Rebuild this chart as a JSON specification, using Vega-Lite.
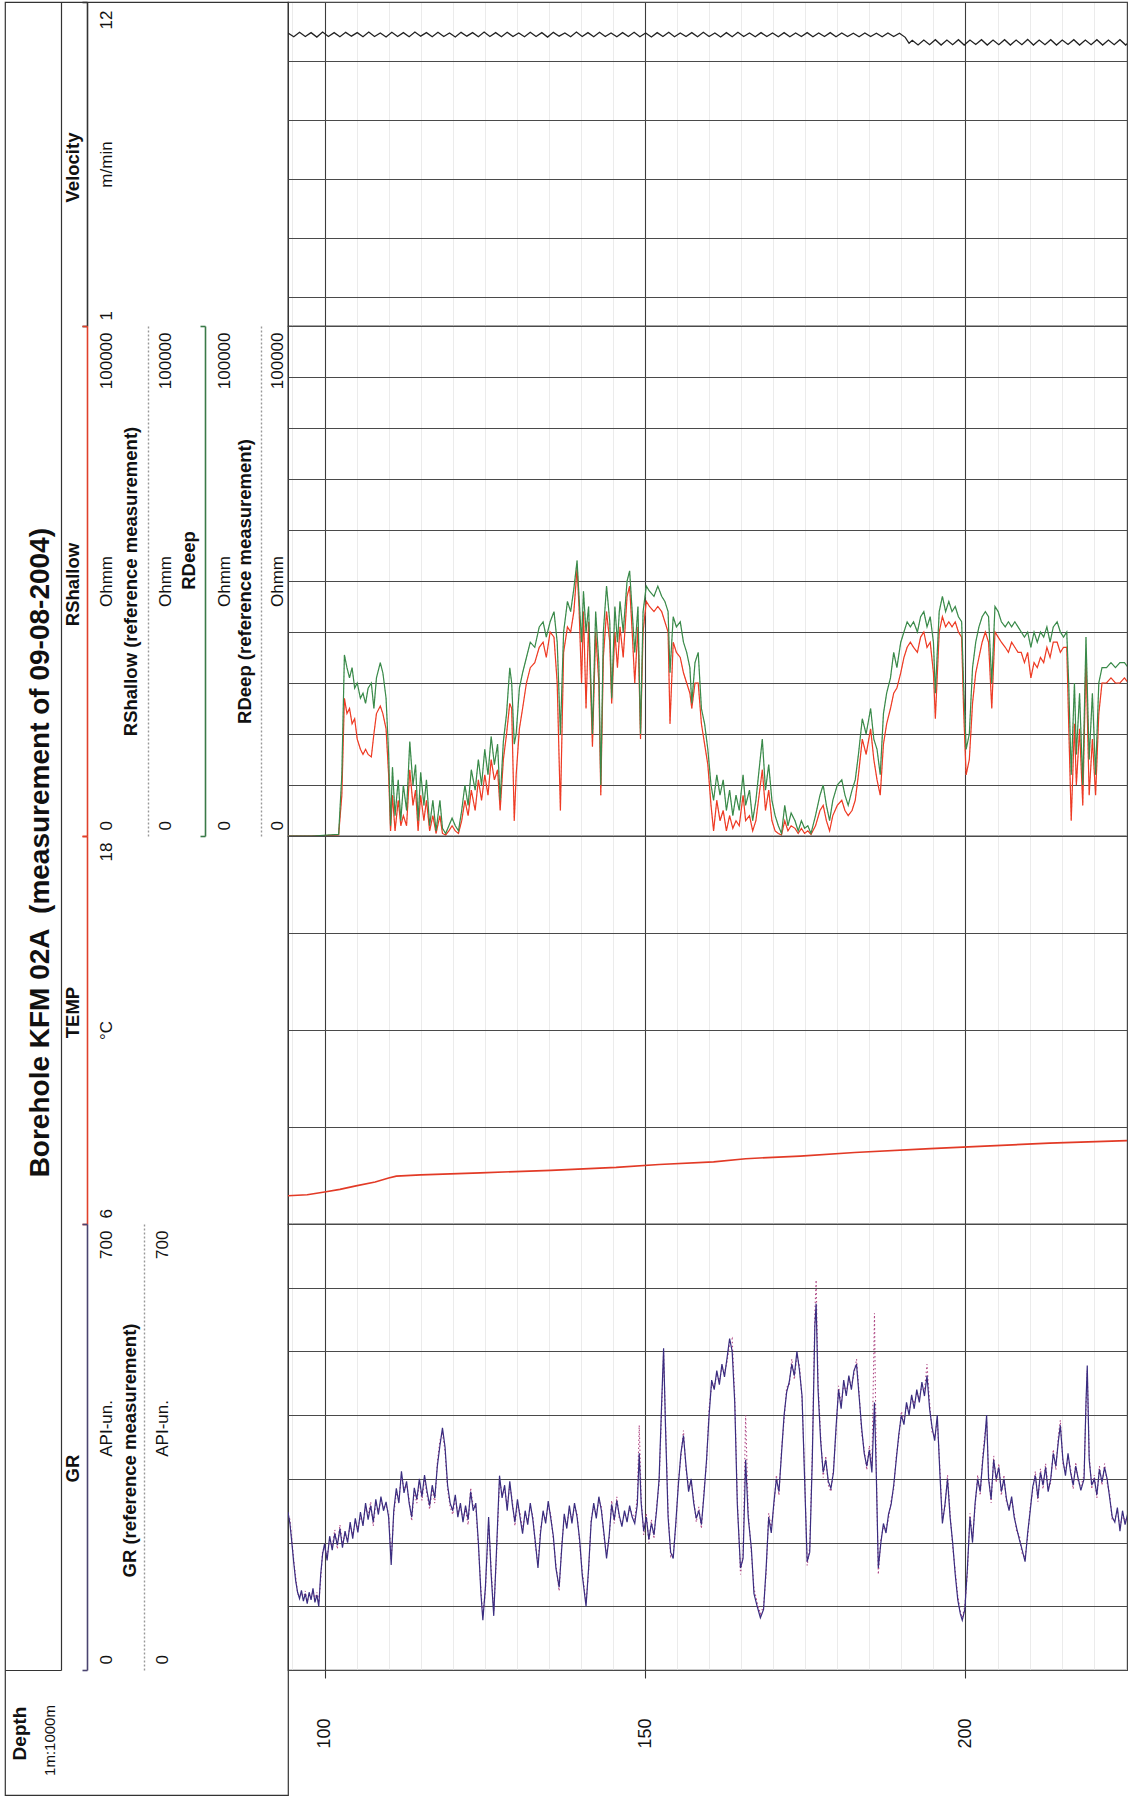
{
  "$schema": "https://vega.github.io/schema/vega-lite/v6.json",
  "background": "white",
  "padding": {"left": 4, "top": 0, "right": 0, "bottom": 0},
  "config": {
    "font": "Liberation Sans",
    "view": {"stroke": "#333", "strokeWidth": 1.2},
    "axis": {"labelFont": "Liberation Sans", "titleFont": "Liberation Sans", "labelColor": "#111", "titleColor": "#111", "labelOverlap": false, "labelBound": false, "labelFlush": false}
  },
  "datasets": {
    "head": [{"title": "Borehole KFM 02A \u00a0(measurement of 09-08-2004)"}],
    "vel": [
      {"d":94.3,"v":10.95},{"d":95.2,"v":10.82},{"d":96.1,"v":10.97},{"d":97.0,"v":10.83},{"d":97.9,"v":10.96},{"d":98.8,"v":10.81},{"d":99.7,"v":10.98},{"d":100.6,"v":10.83},{"d":101.5,"v":10.96},{"d":102.4,"v":10.82},{"d":103.3,"v":10.97},{"d":104.2,"v":10.84},{"d":105.1,"v":10.96},{"d":106.0,"v":10.82},{"d":106.9,"v":10.98},{"d":107.8,"v":10.83},{"d":108.7,"v":10.95},{"d":109.6,"v":10.81},{"d":110.5,"v":10.97},{"d":111.4,"v":10.83},{"d":112.3,"v":10.96},{"d":113.2,"v":10.82},{"d":114.1,"v":10.98},{"d":115.0,"v":10.84},{"d":115.9,"v":10.96},{"d":116.8,"v":10.82},{"d":117.7,"v":10.97},{"d":118.6,"v":10.83},{"d":119.5,"v":10.95},{"d":120.4,"v":10.81},{"d":121.3,"v":10.97},{"d":122.2,"v":10.84},{"d":123.1,"v":10.96},{"d":124.0,"v":10.82},{"d":124.9,"v":10.98},{"d":125.8,"v":10.83},{"d":126.7,"v":10.96},{"d":127.6,"v":10.82},{"d":128.5,"v":10.97},{"d":129.4,"v":10.83},{"d":130.3,"v":10.95},{"d":131.2,"v":10.82},{"d":132.1,"v":10.97},{"d":133.0,"v":10.83},{"d":133.9,"v":10.96},{"d":134.8,"v":10.81},{"d":135.7,"v":10.97},{"d":136.6,"v":10.84},{"d":137.5,"v":10.95},{"d":138.4,"v":10.82},{"d":139.3,"v":10.98},{"d":140.2,"v":10.83},{"d":141.1,"v":10.96},{"d":142.0,"v":10.82},{"d":142.9,"v":10.97},{"d":143.8,"v":10.83},{"d":144.7,"v":10.95},{"d":145.6,"v":10.82},{"d":146.5,"v":10.96},{"d":147.4,"v":10.83},{"d":148.3,"v":10.97},{"d":149.2,"v":10.82},{"d":150.1,"v":10.95},{"d":151.0,"v":10.81},{"d":151.9,"v":10.96},{"d":152.8,"v":10.83},{"d":153.7,"v":10.97},{"d":154.6,"v":10.82},{"d":155.5,"v":10.95},{"d":156.4,"v":10.83},{"d":157.3,"v":10.96},{"d":158.2,"v":10.82},{"d":159.1,"v":10.97},{"d":160.0,"v":10.83},{"d":160.9,"v":10.95},{"d":161.8,"v":10.81},{"d":162.7,"v":10.96},{"d":163.6,"v":10.82},{"d":164.5,"v":10.97},{"d":165.4,"v":10.83},{"d":166.3,"v":10.95},{"d":167.2,"v":10.82},{"d":168.1,"v":10.96},{"d":169.0,"v":10.83},{"d":169.9,"v":10.95},{"d":170.8,"v":10.82},{"d":171.7,"v":10.96},{"d":172.6,"v":10.82},{"d":173.5,"v":10.95},{"d":174.4,"v":10.83},{"d":175.3,"v":10.96},{"d":176.2,"v":10.82},{"d":177.1,"v":10.95},{"d":178.0,"v":10.83},{"d":178.9,"v":10.96},{"d":179.8,"v":10.82},{"d":180.7,"v":10.95},{"d":181.6,"v":10.83},{"d":182.5,"v":10.94},{"d":183.4,"v":10.82},{"d":184.3,"v":10.95},{"d":185.2,"v":10.83},{"d":186.1,"v":10.94},{"d":187.0,"v":10.82},{"d":187.9,"v":10.95},{"d":188.8,"v":10.83},{"d":189.7,"v":10.94},{"d":190.6,"v":10.8},{"d":191.2,"v":10.6},{"d":191.7,"v":10.7},{"d":192.6,"v":10.54},{"d":193.5,"v":10.71},{"d":194.4,"v":10.55},{"d":195.3,"v":10.72},{"d":196.2,"v":10.54},{"d":197.1,"v":10.71},{"d":198.0,"v":10.55},{"d":198.9,"v":10.72},{"d":199.8,"v":10.54},{"d":200.7,"v":10.71},{"d":201.6,"v":10.56},{"d":202.5,"v":10.72},{"d":203.4,"v":10.54},{"d":204.3,"v":10.71},{"d":205.2,"v":10.55},{"d":206.1,"v":10.72},{"d":207.0,"v":10.54},{"d":207.9,"v":10.71},{"d":208.8,"v":10.55},{"d":209.7,"v":10.73},{"d":210.6,"v":10.54},{"d":211.5,"v":10.71},{"d":212.4,"v":10.55},{"d":213.3,"v":10.72},{"d":214.2,"v":10.54},{"d":215.1,"v":10.71},{"d":216.0,"v":10.56},{"d":216.9,"v":10.72},{"d":217.8,"v":10.54},{"d":218.7,"v":10.71},{"d":219.6,"v":10.55},{"d":220.5,"v":10.72},{"d":221.4,"v":10.54},{"d":222.3,"v":10.71},{"d":223.2,"v":10.55},{"d":224.1,"v":10.72},{"d":225.0,"v":10.54},{"d":225.9,"v":10.71}
    ],
    "res": [
      {"d":94.3,"rs":0,"rd":0},{"d":98.1,"rs":0,"rd":0},{"d":102.2,"rs":200,"rd":300},{"d":102.7,"rs":8000,"rd":12000},{"d":103.1,"rs":27000,"rd":35500},{"d":103.5,"rs":24000,"rd":33000},{"d":103.9,"rs":25000,"rd":31000},{"d":104.3,"rs":22000,"rd":33000},{"d":104.7,"rs":23000,"rd":29000},{"d":105.1,"rs":19000,"rd":30000},{"d":105.6,"rs":17000,"rd":27000},{"d":106.0,"rs":16000,"rd":28000},{"d":106.4,"rs":17000,"rd":26000},{"d":106.8,"rs":16000,"rd":29000},{"d":107.3,"rs":15500,"rd":30000},{"d":107.7,"rs":20000,"rd":25000},{"d":108.1,"rs":24000,"rd":31000},{"d":108.7,"rs":25500,"rd":34000},{"d":109.1,"rs":24000,"rd":32000},{"d":109.6,"rs":21000,"rd":27000},{"d":110.0,"rs":12000,"rd":16000},{"d":110.3,"rs":1000,"rd":2000},{"d":110.6,"rs":8000,"rd":13500},{"d":111.0,"rs":1000,"rd":4000},{"d":111.5,"rs":7000,"rd":11000},{"d":111.9,"rs":2000,"rd":3000},{"d":112.3,"rs":4000,"rd":10000},{"d":112.8,"rs":2000,"rd":5000},{"d":113.3,"rs":13000,"rd":18500},{"d":113.8,"rs":6000,"rd":10000},{"d":114.2,"rs":9000,"rd":14000},{"d":114.6,"rs":1000,"rd":3000},{"d":115.0,"rs":8000,"rd":12500},{"d":115.5,"rs":3000,"rd":6000},{"d":115.9,"rs":7000,"rd":11000},{"d":116.4,"rs":1000,"rd":2000},{"d":116.9,"rs":4000,"rd":7000},{"d":117.4,"rs":500,"rd":1000},{"d":118.0,"rs":4000,"rd":7000},{"d":118.4,"rs":500,"rd":1500},{"d":118.9,"rs":200,"rd":500},{"d":119.4,"rs":1000,"rd":2000},{"d":119.9,"rs":2000,"rd":3500},{"d":120.4,"rs":1000,"rd":2000},{"d":120.9,"rs":500,"rd":1000},{"d":121.4,"rs":3000,"rd":5000},{"d":121.9,"rs":7000,"rd":10000},{"d":122.4,"rs":4000,"rd":6000},{"d":122.9,"rs":9000,"rd":13000},{"d":123.5,"rs":5000,"rd":9000},{"d":124.0,"rs":11000,"rd":15000},{"d":124.5,"rs":7000,"rd":10000},{"d":125.0,"rs":12000,"rd":17000},{"d":125.5,"rs":8000,"rd":12000},{"d":126.0,"rs":15000,"rd":19500},{"d":126.5,"rs":11000,"rd":14000},{"d":127.0,"rs":13000,"rd":18000},{"d":127.4,"rs":5000,"rd":7000},{"d":127.9,"rs":15000,"rd":18500},{"d":128.4,"rs":20000,"rd":24000},{"d":128.9,"rs":26000,"rd":33000},{"d":129.2,"rs":25000,"rd":30000},{"d":129.6,"rs":3000,"rd":18000},{"d":129.9,"rs":12000,"rd":20000},{"d":130.4,"rs":21000,"rd":29000},{"d":130.9,"rs":25000,"rd":32000},{"d":131.5,"rs":30000,"rd":35000},{"d":132.1,"rs":33000,"rd":38000},{"d":132.8,"rs":34000,"rd":37000},{"d":133.5,"rs":37000,"rd":41000},{"d":134.1,"rs":38000,"rd":42000},{"d":134.6,"rs":35000,"rd":39000},{"d":135.2,"rs":40000,"rd":42000},{"d":135.8,"rs":39000,"rd":44000},{"d":136.3,"rs":30000,"rd":38000},{"d":136.8,"rs":5000,"rd":20000},{"d":137.3,"rs":36000,"rd":40000},{"d":137.9,"rs":41000,"rd":46000},{"d":138.4,"rs":40000,"rd":44000},{"d":138.9,"rs":44000,"rd":48500},{"d":139.4,"rs":52500,"rd":54000},{"d":139.7,"rs":45000,"rd":47000},{"d":140.1,"rs":30000,"rd":38000},{"d":140.4,"rs":44000,"rd":48000},{"d":140.8,"rs":25000,"rd":40000},{"d":141.2,"rs":42000,"rd":45000},{"d":141.8,"rs":17500,"rd":20000},{"d":142.3,"rs":40000,"rd":44000},{"d":142.8,"rs":30000,"rd":34000},{"d":143.1,"rs":8000,"rd":10000},{"d":143.5,"rs":35000,"rd":40000},{"d":144.0,"rs":44000,"rd":49000},{"d":144.5,"rs":38000,"rd":42000},{"d":144.8,"rs":26000,"rd":27000},{"d":145.3,"rs":40000,"rd":45000},{"d":145.7,"rs":33000,"rd":38000},{"d":146.1,"rs":41000,"rd":46000},{"d":146.6,"rs":35000,"rd":40000},{"d":147.2,"rs":47000,"rd":50000},{"d":147.6,"rs":49000,"rd":52000},{"d":148.0,"rs":40000,"rd":44000},{"d":148.4,"rs":30000,"rd":36000},{"d":148.9,"rs":41000,"rd":45000},{"d":149.3,"rs":19000,"rd":20000},{"d":149.7,"rs":40000,"rd":44000},{"d":150.2,"rs":46000,"rd":49000},{"d":150.7,"rs":45000,"rd":48000},{"d":151.4,"rs":44000,"rd":47000},{"d":152.0,"rs":45000,"rd":49000},{"d":152.6,"rs":44000,"rd":47000},{"d":153.1,"rs":42000,"rd":46000},{"d":153.6,"rs":40000,"rd":44000},{"d":153.9,"rs":22000,"rd":32000},{"d":154.4,"rs":38000,"rd":43000},{"d":154.9,"rs":36000,"rd":41000},{"d":155.5,"rs":35000,"rd":42000},{"d":156.0,"rs":32000,"rd":38000},{"d":156.5,"rs":30000,"rd":36000},{"d":157.0,"rs":28000,"rd":33000},{"d":157.3,"rs":25000,"rd":26000},{"d":157.8,"rs":30000,"rd":34000},{"d":158.3,"rs":30000,"rd":36000},{"d":158.8,"rs":22000,"rd":25000},{"d":159.3,"rs":18000,"rd":22000},{"d":159.8,"rs":14000,"rd":17000},{"d":160.3,"rs":6000,"rd":10000},{"d":160.7,"rs":1000,"rd":7000},{"d":161.2,"rs":7000,"rd":12000},{"d":161.7,"rs":3000,"rd":8000},{"d":162.2,"rs":5000,"rd":11000},{"d":162.7,"rs":1000,"rd":5000},{"d":163.2,"rs":4000,"rd":9000},{"d":163.7,"rs":1500,"rd":4000},{"d":164.2,"rs":3000,"rd":8000},{"d":164.7,"rs":2000,"rd":5000},{"d":165.3,"rs":8000,"rd":12000},{"d":165.7,"rs":3000,"rd":6000},{"d":166.3,"rs":4000,"rd":9000},{"d":166.8,"rs":1000,"rd":3000},{"d":167.3,"rs":3000,"rd":7000},{"d":167.8,"rs":8000,"rd":13000},{"d":168.3,"rs":13000,"rd":19000},{"d":168.8,"rs":5000,"rd":9000},{"d":169.3,"rs":9000,"rd":14000},{"d":169.8,"rs":3000,"rd":7000},{"d":170.3,"rs":1000,"rd":4000},{"d":170.8,"rs":500,"rd":2000},{"d":171.3,"rs":200,"rd":500},{"d":171.8,"rs":3000,"rd":6000},{"d":172.3,"rs":1000,"rd":2000},{"d":172.8,"rs":2000,"rd":4500},{"d":173.4,"rs":1500,"rd":3000},{"d":173.9,"rs":500,"rd":1000},{"d":174.4,"rs":1500,"rd":3000},{"d":174.9,"rs":500,"rd":1500},{"d":175.4,"rs":1000,"rd":2000},{"d":175.9,"rs":300,"rd":500},{"d":176.6,"rs":2000,"rd":4000},{"d":177.3,"rs":5000,"rd":8000},{"d":177.8,"rs":6000,"rd":10000},{"d":178.3,"rs":3000,"rd":6000},{"d":178.8,"rs":1000,"rd":3000},{"d":179.3,"rs":4000,"rd":7000},{"d":180.0,"rs":6000,"rd":10000},{"d":180.7,"rs":7000,"rd":11000},{"d":181.2,"rs":5000,"rd":8000},{"d":181.7,"rs":4000,"rd":6000},{"d":182.3,"rs":5000,"rd":9000},{"d":182.8,"rs":7000,"rd":11000},{"d":183.3,"rs":12000,"rd":16000},{"d":183.9,"rs":19000,"rd":23000},{"d":184.5,"rs":16000,"rd":20000},{"d":185.2,"rs":21000,"rd":25000},{"d":185.7,"rs":15000,"rd":19000},{"d":186.2,"rs":11000,"rd":17000},{"d":186.7,"rs":8000,"rd":12000},{"d":187.2,"rs":18000,"rd":24000},{"d":187.7,"rs":22000,"rd":28000},{"d":188.3,"rs":25000,"rd":31000},{"d":188.8,"rs":28000,"rd":36000},{"d":189.3,"rs":29000,"rd":33000},{"d":189.9,"rs":32000,"rd":38000},{"d":190.4,"rs":35000,"rd":40000},{"d":190.9,"rs":37000,"rd":42000},{"d":191.4,"rs":38000,"rd":41000},{"d":191.9,"rs":37000,"rd":42000},{"d":192.5,"rs":36000,"rd":40000},{"d":193.0,"rs":39000,"rd":43000},{"d":193.5,"rs":40000,"rd":44000},{"d":194.0,"rs":37000,"rd":41000},{"d":194.5,"rs":38000,"rd":43000},{"d":195.0,"rs":32000,"rd":38000},{"d":195.3,"rs":23000,"rd":28000},{"d":195.9,"rs":40000,"rd":44000},{"d":196.4,"rs":43000,"rd":47000},{"d":196.9,"rs":41000,"rd":44000},{"d":197.4,"rs":42000,"rd":46000},{"d":197.9,"rs":41000,"rd":44000},{"d":198.4,"rs":42000,"rd":45000},{"d":198.9,"rs":40000,"rd":43000},{"d":199.4,"rs":39000,"rd":42000},{"d":199.7,"rs":25000,"rd":30000},{"d":200.1,"rs":12000,"rd":17000},{"d":200.6,"rs":15000,"rd":20000},{"d":201.1,"rs":26000,"rd":33000},{"d":201.6,"rs":32000,"rd":38000},{"d":202.1,"rs":35000,"rd":41000},{"d":202.6,"rs":38000,"rd":43000},{"d":203.1,"rs":40000,"rd":44000},{"d":203.6,"rs":38000,"rd":43000},{"d":204.1,"rs":25000,"rd":30000},{"d":204.6,"rs":40000,"rd":45000},{"d":205.1,"rs":39000,"rd":44000},{"d":205.6,"rs":38000,"rd":42000},{"d":206.2,"rs":37000,"rd":41000},{"d":206.7,"rs":36000,"rd":42000},{"d":207.2,"rs":38000,"rd":41000},{"d":207.7,"rs":37000,"rd":42000},{"d":208.2,"rs":36000,"rd":41000},{"d":208.7,"rs":36000,"rd":40000},{"d":209.2,"rs":34000,"rd":39000},{"d":209.7,"rs":36000,"rd":40000},{"d":210.2,"rs":31000,"rd":37000},{"d":210.7,"rs":34000,"rd":40000},{"d":211.2,"rs":33000,"rd":38000},{"d":211.7,"rs":35000,"rd":40000},{"d":212.2,"rs":34000,"rd":39000},{"d":212.7,"rs":37000,"rd":41000},{"d":213.2,"rs":35000,"rd":38000},{"d":213.7,"rs":38000,"rd":41000},{"d":214.3,"rs":38000,"rd":42000},{"d":214.8,"rs":36000,"rd":40000},{"d":215.3,"rs":37000,"rd":39000},{"d":215.8,"rs":37000,"rd":40000},{"d":216.1,"rs":22000,"rd":30000},{"d":216.5,"rs":3000,"rd":12000},{"d":217.0,"rs":22000,"rd":30000},{"d":217.3,"rs":10000,"rd":16000},{"d":217.8,"rs":21000,"rd":28000},{"d":218.3,"rs":6000,"rd":10000},{"d":218.8,"rs":35000,"rd":39000},{"d":219.3,"rs":8000,"rd":15000},{"d":219.8,"rs":19000,"rd":28000},{"d":220.3,"rs":8000,"rd":12000},{"d":220.8,"rs":24000,"rd":30000},{"d":221.3,"rs":30000,"rd":33000},{"d":222.0,"rs":30000,"rd":33000},{"d":222.7,"rs":31000,"rd":34000},{"d":223.4,"rs":30000,"rd":33000},{"d":224.1,"rs":30000,"rd":34000},{"d":224.8,"rs":31000,"rd":34000},{"d":225.4,"rs":30000,"rd":33000}
    ],
    "temp": [
      {"d":94.3,"t":6.875},{"d":97.3,"t":6.907},{"d":100.0,"t":6.99},{"d":102.4,"t":7.07},{"d":104.9,"t":7.18},{"d":107.9,"t":7.3},{"d":110.0,"t":7.42},{"d":111.2,"t":7.48},{"d":115.0,"t":7.52},{"d":124.3,"t":7.58},{"d":135.3,"t":7.66},{"d":145.5,"t":7.75},{"d":152.2,"t":7.84},{"d":160.7,"t":7.92},{"d":165.7,"t":8.02},{"d":174.2,"t":8.1},{"d":182.7,"t":8.21},{"d":194.5,"t":8.33},{"d":203.0,"t":8.41},{"d":213.1,"t":8.5},{"d":225.2,"t":8.58}
    ],
    "gr": [
      {"d":94.3,"g":248,"r":244},{"d":94.6,"g":230,"r":236},{"d":94.9,"g":200,"r":205},{"d":95.2,"g":168,"r":172},{"d":95.5,"g":140,"r":146},{"d":95.8,"g":122,"r":120},{"d":96.1,"g":112,"r":116},{"d":96.4,"g":125,"r":121},{"d":96.7,"g":108,"r":112},{"d":97.0,"g":120,"r":124},{"d":97.3,"g":104,"r":108},{"d":97.6,"g":122,"r":118},{"d":97.9,"g":110,"r":114},{"d":98.2,"g":128,"r":124},{"d":98.5,"g":106,"r":110},{"d":98.8,"g":118,"r":122},{"d":99.1,"g":100,"r":106},{"d":99.4,"g":150,"r":142},{"d":99.7,"g":182,"r":188},{"d":100.0,"g":198,"r":192},{"d":100.4,"g":172,"r":178},{"d":100.8,"g":210,"r":204},{"d":101.2,"g":188,"r":194},{"d":101.6,"g":214,"r":220},{"d":102.0,"g":196,"r":190},{"d":102.4,"g":222,"r":228},{"d":102.8,"g":192,"r":198},{"d":103.2,"g":218,"r":212},{"d":103.6,"g":200,"r":206},{"d":104.0,"g":232,"r":226},{"d":104.4,"g":206,"r":212},{"d":104.8,"g":238,"r":232},{"d":105.2,"g":216,"r":222},{"d":105.6,"g":248,"r":240},{"d":106.0,"g":226,"r":232},{"d":106.4,"g":262,"r":256},{"d":106.8,"g":236,"r":242},{"d":107.2,"g":258,"r":264},{"d":107.6,"g":232,"r":226},{"d":108.0,"g":268,"r":262},{"d":108.4,"g":244,"r":250},{"d":108.8,"g":272,"r":266},{"d":109.2,"g":250,"r":256},{"d":109.6,"g":264,"r":258},{"d":110.0,"g":240,"r":246},{"d":110.4,"g":165,"r":172},{"d":110.8,"g":250,"r":244},{"d":111.2,"g":285,"r":278},{"d":111.6,"g":262,"r":268},{"d":112.0,"g":312,"r":305},{"d":112.4,"g":278,"r":284},{"d":112.8,"g":296,"r":290},{"d":113.2,"g":262,"r":268},{"d":113.6,"g":240,"r":234},{"d":114.0,"g":286,"r":280},{"d":114.4,"g":268,"r":262},{"d":114.8,"g":300,"r":296},{"d":115.2,"g":272,"r":266},{"d":115.6,"g":306,"r":300},{"d":116.0,"g":280,"r":274},{"d":116.4,"g":258,"r":252},{"d":116.8,"g":290,"r":284},{"d":117.2,"g":270,"r":262},{"d":117.6,"g":320,"r":326},{"d":118.0,"g":352,"r":360},{"d":118.4,"g":380,"r":372},{"d":118.8,"g":350,"r":344},{"d":119.2,"g":290,"r":284},{"d":119.6,"g":262,"r":256},{"d":120.0,"g":250,"r":244},{"d":120.4,"g":275,"r":270},{"d":120.8,"g":240,"r":246},{"d":121.2,"g":262,"r":256},{"d":121.6,"g":232,"r":238},{"d":122.0,"g":258,"r":252},{"d":122.4,"g":236,"r":228},{"d":122.8,"g":280,"r":286},{"d":123.2,"g":250,"r":256},{"d":123.6,"g":262,"r":255},{"d":124.0,"g":200,"r":196},{"d":124.4,"g":120,"r":126},{"d":124.7,"g":78,"r":84},{"d":125.1,"g":130,"r":124},{"d":125.6,"g":240,"r":232},{"d":126.0,"g":150,"r":158},{"d":126.4,"g":85,"r":92},{"d":126.8,"g":180,"r":172},{"d":127.3,"g":305,"r":298},{"d":127.7,"g":270,"r":276},{"d":128.1,"g":290,"r":284},{"d":128.5,"g":250,"r":256},{"d":128.9,"g":296,"r":290},{"d":129.3,"g":260,"r":266},{"d":129.7,"g":232,"r":226},{"d":130.1,"g":268,"r":262},{"d":130.5,"g":240,"r":246},{"d":130.9,"g":214,"r":220},{"d":131.3,"g":250,"r":244},{"d":131.7,"g":228,"r":234},{"d":132.1,"g":262,"r":256},{"d":132.5,"g":236,"r":242},{"d":132.9,"g":200,"r":194},{"d":133.3,"g":160,"r":166},{"d":133.7,"g":215,"r":222},{"d":134.1,"g":250,"r":244},{"d":134.5,"g":230,"r":236},{"d":134.9,"g":265,"r":258},{"d":135.3,"g":238,"r":244},{"d":135.7,"g":210,"r":204},{"d":136.1,"g":160,"r":166},{"d":136.6,"g":130,"r":124},{"d":137.0,"g":190,"r":196},{"d":137.4,"g":245,"r":240},{"d":137.8,"g":222,"r":228},{"d":138.2,"g":258,"r":252},{"d":138.6,"g":230,"r":236},{"d":139.0,"g":262,"r":256},{"d":139.4,"g":240,"r":246},{"d":139.8,"g":205,"r":198},{"d":140.2,"g":150,"r":156},{"d":140.8,"g":100,"r":104},{"d":141.2,"g":160,"r":154},{"d":141.6,"g":232,"r":238},{"d":142.0,"g":262,"r":256},{"d":142.4,"g":238,"r":244},{"d":142.8,"g":272,"r":266},{"d":143.2,"g":250,"r":256},{"d":143.6,"g":214,"r":208},{"d":144.0,"g":175,"r":182},{"d":144.4,"g":210,"r":204},{"d":144.8,"g":260,"r":266},{"d":145.2,"g":236,"r":230},{"d":145.6,"g":266,"r":272},{"d":146.0,"g":242,"r":236},{"d":146.4,"g":225,"r":231},{"d":146.8,"g":250,"r":244},{"d":147.2,"g":232,"r":238},{"d":147.6,"g":258,"r":252},{"d":148.0,"g":240,"r":246},{"d":148.4,"g":230,"r":236},{"d":148.8,"g":260,"r":272},{"d":149.1,"g":340,"r":384},{"d":149.4,"g":262,"r":270},{"d":149.8,"g":218,"r":212},{"d":150.2,"g":240,"r":246},{"d":150.6,"g":205,"r":200},{"d":151.0,"g":230,"r":236},{"d":151.4,"g":212,"r":206},{"d":151.8,"g":250,"r":256},{"d":152.2,"g":300,"r":292},{"d":152.6,"g":420,"r":410},{"d":152.9,"g":505,"r":498},{"d":153.2,"g":380,"r":390},{"d":153.6,"g":240,"r":250},{"d":154.0,"g":185,"r":178},{"d":154.4,"g":175,"r":182},{"d":154.8,"g":230,"r":224},{"d":155.2,"g":290,"r":296},{"d":155.6,"g":340,"r":334},{"d":156.0,"g":368,"r":376},{"d":156.4,"g":320,"r":314},{"d":156.8,"g":280,"r":288},{"d":157.2,"g":300,"r":294},{"d":157.6,"g":262,"r":268},{"d":158.0,"g":238,"r":232},{"d":158.4,"g":250,"r":256},{"d":158.8,"g":228,"r":222},{"d":159.2,"g":275,"r":282},{"d":159.6,"g":330,"r":324},{"d":160.0,"g":400,"r":410},{"d":160.4,"g":455,"r":448},{"d":160.8,"g":440,"r":446},{"d":161.2,"g":470,"r":462},{"d":161.6,"g":448,"r":454},{"d":162.0,"g":480,"r":474},{"d":162.4,"g":460,"r":466},{"d":162.8,"g":490,"r":484},{"d":163.2,"g":520,"r":512},{"d":163.6,"g":500,"r":520},{"d":164.0,"g":420,"r":430},{"d":164.4,"g":260,"r":270},{"d":164.9,"g":160,"r":150},{"d":165.3,"g":175,"r":184},{"d":165.7,"g":330,"r":400},{"d":166.1,"g":240,"r":250},{"d":166.6,"g":190,"r":182},{"d":167.0,"g":120,"r":128},{"d":167.5,"g":100,"r":106},{"d":168.0,"g":82,"r":88},{"d":168.5,"g":95,"r":100},{"d":168.9,"g":160,"r":152},{"d":169.3,"g":240,"r":246},{"d":169.7,"g":215,"r":222},{"d":170.1,"g":262,"r":256},{"d":170.5,"g":300,"r":306},{"d":170.9,"g":280,"r":274},{"d":171.3,"g":340,"r":346},{"d":171.7,"g":400,"r":392},{"d":172.1,"g":436,"r":444},{"d":172.5,"g":452,"r":446},{"d":172.9,"g":480,"r":488},{"d":173.3,"g":462,"r":456},{"d":173.7,"g":500,"r":494},{"d":174.1,"g":470,"r":478},{"d":174.5,"g":430,"r":424},{"d":174.9,"g":300,"r":310},{"d":175.3,"g":170,"r":164},{"d":175.7,"g":185,"r":192},{"d":176.1,"g":330,"r":340},{"d":176.5,"g":540,"r":560},{"d":176.7,"g":575,"r":612},{"d":177.0,"g":440,"r":452},{"d":177.4,"g":360,"r":368},{"d":177.8,"g":310,"r":302},{"d":178.2,"g":330,"r":336},{"d":178.6,"g":296,"r":290},{"d":179.0,"g":285,"r":280},{"d":179.4,"g":310,"r":316},{"d":179.8,"g":380,"r":372},{"d":180.2,"g":440,"r":446},{"d":180.6,"g":410,"r":416},{"d":181.0,"g":455,"r":448},{"d":181.4,"g":430,"r":436},{"d":181.8,"g":462,"r":456},{"d":182.2,"g":440,"r":446},{"d":182.6,"g":470,"r":464},{"d":183.0,"g":480,"r":488},{"d":183.4,"g":430,"r":436},{"d":183.8,"g":380,"r":372},{"d":184.2,"g":340,"r":346},{"d":184.6,"g":320,"r":314},{"d":185.0,"g":345,"r":352},{"d":185.4,"g":310,"r":320},{"d":185.8,"g":420,"r":560},{"d":186.1,"g":300,"r":310},{"d":186.4,"g":160,"r":150},{"d":186.8,"g":200,"r":206},{"d":187.2,"g":230,"r":224},{"d":187.6,"g":215,"r":222},{"d":188.0,"g":245,"r":238},{"d":188.4,"g":260,"r":266},{"d":188.8,"g":290,"r":284},{"d":189.2,"g":330,"r":336},{"d":189.6,"g":370,"r":364},{"d":190.0,"g":400,"r":406},{"d":190.4,"g":385,"r":392},{"d":190.8,"g":420,"r":414},{"d":191.2,"g":400,"r":406},{"d":191.6,"g":432,"r":426},{"d":192.0,"g":410,"r":418},{"d":192.4,"g":440,"r":434},{"d":192.8,"g":420,"r":426},{"d":193.2,"g":452,"r":446},{"d":193.6,"g":430,"r":438},{"d":194.0,"g":462,"r":480},{"d":194.4,"g":410,"r":420},{"d":194.8,"g":380,"r":372},{"d":195.2,"g":360,"r":366},{"d":195.6,"g":400,"r":392},{"d":196.0,"g":310,"r":318},{"d":196.4,"g":230,"r":236},{"d":196.8,"g":260,"r":254},{"d":197.2,"g":300,"r":306},{"d":197.6,"g":240,"r":246},{"d":198.0,"g":200,"r":194},{"d":198.4,"g":150,"r":156},{"d":198.8,"g":110,"r":116},{"d":199.2,"g":88,"r":92},{"d":199.5,"g":78,"r":82},{"d":199.9,"g":95,"r":100},{"d":200.3,"g":160,"r":152},{"d":200.7,"g":240,"r":246},{"d":201.1,"g":200,"r":206},{"d":201.5,"g":262,"r":256},{"d":201.9,"g":300,"r":306},{"d":202.3,"g":280,"r":274},{"d":202.7,"g":330,"r":338},{"d":203.0,"g":360,"r":368},{"d":203.3,"g":400,"r":392},{"d":203.6,"g":300,"r":308},{"d":204.0,"g":268,"r":262},{"d":204.4,"g":330,"r":336},{"d":204.8,"g":300,"r":294},{"d":205.2,"g":318,"r":324},{"d":205.6,"g":280,"r":274},{"d":206.0,"g":300,"r":306},{"d":206.4,"g":268,"r":262},{"d":206.8,"g":250,"r":256},{"d":207.2,"g":272,"r":266},{"d":207.6,"g":240,"r":246},{"d":208.0,"g":222,"r":216},{"d":208.4,"g":205,"r":212},{"d":208.8,"g":190,"r":184},{"d":209.3,"g":170,"r":176},{"d":209.7,"g":215,"r":208},{"d":210.1,"g":250,"r":256},{"d":210.5,"g":288,"r":282},{"d":210.9,"g":305,"r":312},{"d":211.3,"g":270,"r":264},{"d":211.7,"g":310,"r":316},{"d":212.1,"g":290,"r":284},{"d":212.5,"g":318,"r":324},{"d":212.9,"g":280,"r":286},{"d":213.3,"g":300,"r":294},{"d":213.7,"g":340,"r":346},{"d":214.1,"g":320,"r":314},{"d":214.5,"g":360,"r":368},{"d":214.8,"g":384,"r":392},{"d":215.2,"g":330,"r":324},{"d":215.6,"g":305,"r":312},{"d":216.0,"g":340,"r":334},{"d":216.4,"g":310,"r":316},{"d":216.8,"g":290,"r":284},{"d":217.2,"g":320,"r":326},{"d":217.6,"g":300,"r":294},{"d":218.0,"g":282,"r":288},{"d":218.5,"g":300,"r":306},{"d":218.8,"g":420,"r":412},{"d":219.0,"g":478,"r":470},{"d":219.3,"g":330,"r":338},{"d":219.7,"g":290,"r":284},{"d":220.1,"g":300,"r":306},{"d":220.5,"g":275,"r":270},{"d":220.9,"g":315,"r":320},{"d":221.3,"g":295,"r":290},{"d":221.7,"g":318,"r":324},{"d":222.1,"g":300,"r":294},{"d":222.5,"g":270,"r":276},{"d":222.9,"g":240,"r":234},{"d":223.3,"g":232,"r":238},{"d":223.7,"g":255,"r":250},{"d":224.1,"g":218,"r":224},{"d":224.5,"g":250,"r":244},{"d":224.9,"g":228,"r":234},{"d":225.3,"g":245,"r":240}
    ]
  },
  "hconcat": [
    {
      "width": 283,
      "height": 1793,
      "view": {"stroke": "#333", "strokeWidth": 1.2},
      "data": {"name": "head"},
      "mark": {"type": "text", "angle": 270, "fontSize": 28, "fontWeight": "bold", "color": "#111", "align": "center", "baseline": "middle"},
      "encoding": {
        "text": {"field": "title"},
        "x": {
          "field": "title", "type": "nominal",
          "scale": {"type": "point", "range": [0, 56], "align": 0.65},
          "axis": {"orient": "bottom", "offset": -125, "domainColor": "#333", "domainWidth": 1.2, "labels": false, "ticks": false, "grid": false,
                   "title": "Depth", "titleAngle": 270, "titleX": 14, "titleY": 63, "titleAlign": "center", "titleBaseline": "middle", "titleFontSize": 19, "titleFontWeight": "bold"}
        },
        "y": {
          "field": "title", "type": "nominal",
          "scale": {"type": "point", "range": [0, 1668], "align": 0.51},
          "axis": {"orient": "right", "offset": -227, "domainColor": "#333", "domainWidth": 1.2, "labels": false, "ticks": false, "grid": false,
                   "title": "1m:1000m", "titleAngle": 270, "titleX": -12, "titleY": 1738, "titleAlign": "center", "titleBaseline": "middle", "titleFontSize": 15, "titleFontWeight": "normal"}
        }
      }
    },
    {
      "spacing": 0,
      "bounds": "flush",
      "vconcat": [
        {
          "width": 839,
          "height": 324,
          "data": {"name": "vel"},
          "encoding": {
            "x": {"field": "d", "type": "quantitative", "scale": {"domain": [94.3, 225.2], "nice": false, "zero": false},
                  "axis": {"orient": "bottom", "title": null, "labels": false, "ticks": false, "domain": false, "grid": true,
                           "values": [95,100,105,110,115,120,125,130,135,140,145,150,155,160,165,170,175,180,185,190,195,200,205,210,215,220,225],
                           "gridColor": {"condition": {"test": "datum.value % 50 == 0", "value": "#3c3c3c"}, "value": "#e3e3e3"},
                           "gridWidth": {"condition": {"test": "datum.value % 50 == 0", "value": 1.1}, "value": 0.7}}}
          },
          "layer": [
            {
              "mark": {"type": "line", "color": "#222", "strokeWidth": 1.3, "clip": true},
              "encoding": {
                "y": {"field": "v", "type": "quantitative", "scale": {"domain": [1, 12], "nice": false, "zero": false},
                      "axis": {"orient": "left", "offset": 201, "title": "Velocity",
                               "values": [1, 2, 4, 6, 6.5, 8, 10, 12],
                               "labelExpr": "datum.value == 1 ? '1' : datum.value == 12 ? '12' : datum.value == 6.5 ? 'm/min' : ''",
                               "grid": true, "gridColor": "#4a4a4a", "gridWidth": 1.1,
                               "gridOpacity": {"condition": {"test": "datum.value == 6.5", "value": 0}, "value": 1},
                               "domainColor": "#333", "domainWidth": 1.6,
                               "ticks": true, "tickSize": 5, "tickColor": "#333", "tickWidth": 1.6,
                               "tickOpacity": {"condition": {"test": "datum.value == 1 || datum.value == 12", "value": 1}, "value": 0},
                               "labelAngle": 270, "labelFontSize": 17, "labelPadding": -16, "labelBaseline": "top",
                               "labelAlign": {"condition": [{"test": "datum.value == 1", "value": "left"}, {"test": "datum.value == 12", "value": "right"}], "value": "center"},
                               "labelOffset": {"condition": [{"test": "datum.value == 1", "value": -6}, {"test": "datum.value == 12", "value": 8}], "value": 0},
                               "titleAngle": 270, "titleX": -5, "titleY": 165, "titleAlign": "center", "titleBaseline": "bottom", "titleFontSize": 18.5, "titleFontWeight": "bold"}}
              }
            }
          ]
        },
        {
          "width": 839,
          "height": 510,
          "data": {"name": "res"},
          "encoding": {
            "x": {"field": "d", "type": "quantitative", "scale": {"domain": [94.3, 225.2], "nice": false, "zero": false},
                  "axis": {"orient": "bottom", "title": null, "labels": false, "ticks": false, "domain": false, "grid": true,
                           "values": [95,100,105,110,115,120,125,130,135,140,145,150,155,160,165,170,175,180,185,190,195,200,205,210,215,220,225],
                           "gridColor": {"condition": {"test": "datum.value % 50 == 0", "value": "#3c3c3c"}, "value": "#e3e3e3"},
                           "gridWidth": {"condition": {"test": "datum.value % 50 == 0", "value": 1.1}, "value": 0.7}}}
          },
          "layer": [
            {
              "mark": {"type": "line", "color": "#f2a090", "strokeWidth": 0.8, "strokeDash": [1.5, 2.5], "clip": true},
              "encoding": {
                "y": {"field": "rs", "type": "quantitative", "scale": {"domain": [0, 100000], "nice": false, "zero": false},
                      "axis": {"orient": "left", "offset": 140, "title": "RShallow (reference measurement)",
                               "values": [0, 50000, 100000],
                               "labelExpr": "datum.value == 0 ? '0' : datum.value == 100000 ? '100000' : 'Ohmm'",
                               "grid": false, "domainColor": "#999", "domainWidth": 1.4, "domainDash": [2, 2],
                               "ticks": false, "tickSize": 0,
                               "labelAngle": 270, "labelFontSize": 17, "labelPadding": -9, "labelBaseline": "top",
                               "labelAlign": {"condition": [{"test": "datum.value == 0", "value": "left"}, {"test": "datum.value == 100000", "value": "right"}], "value": "center"},
                               "labelOffset": {"condition": [{"test": "datum.value == 0", "value": -6}, {"test": "datum.value == 100000", "value": 6}], "value": 0},
                               "titleAngle": 270, "titleX": -8, "titleY": 255, "titleAlign": "center", "titleBaseline": "bottom", "titleFontSize": 18.5, "titleFontWeight": "bold"}}
              }
            },
            {
              "mark": {"type": "line", "color": "#9cc8a0", "strokeWidth": 0.8, "strokeDash": [1.5, 2.5], "clip": true},
              "encoding": {
                "y": {"field": "rd", "type": "quantitative", "scale": {"domain": [0, 100000], "nice": false, "zero": false},
                      "axis": {"orient": "left", "offset": 27, "title": "RDeep (reference measurement)",
                               "values": [0, 50000, 100000],
                               "labelExpr": "datum.value == 0 ? '0' : datum.value == 100000 ? '100000' : 'Ohmm'",
                               "grid": false, "domainColor": "#999", "domainWidth": 1.4, "domainDash": [2, 2],
                               "ticks": false, "tickSize": 0,
                               "labelAngle": 270, "labelFontSize": 17, "labelPadding": -8, "labelBaseline": "top",
                               "labelAlign": {"condition": [{"test": "datum.value == 0", "value": "left"}, {"test": "datum.value == 100000", "value": "right"}], "value": "center"},
                               "labelOffset": {"condition": [{"test": "datum.value == 0", "value": -6}, {"test": "datum.value == 100000", "value": 6}], "value": 0},
                               "titleAngle": 270, "titleX": -7, "titleY": 255, "titleAlign": "center", "titleBaseline": "bottom", "titleFontSize": 18.5, "titleFontWeight": "bold"}}
              }
            },
            {
              "mark": {"type": "line", "color": "#ee3b24", "strokeWidth": 1.2, "clip": true},
              "encoding": {
                "y": {"field": "rs", "type": "quantitative", "scale": {"domain": [0, 100000], "nice": false, "zero": false},
                      "axis": {"orient": "left", "offset": 201, "title": "RShallow",
                               "values": [0, 10000, 20000, 30000, 40000, 50000, 60000, 70000, 80000, 90000, 100000],
                               "labelExpr": "datum.value == 0 ? '0' : datum.value == 100000 ? '100000' : datum.value == 50000 ? 'Ohmm' : ''",
                               "grid": true, "gridColor": "#4a4a4a", "gridWidth": 1.1,
                               "domainColor": "#e0402a", "domainWidth": 1.6,
                               "ticks": true, "tickSize": 5, "tickColor": "#e0402a", "tickWidth": 1.6,
                               "tickOpacity": {"condition": {"test": "datum.value == 0 || datum.value == 100000", "value": 1}, "value": 0},
                               "labelAngle": 270, "labelFontSize": 17, "labelPadding": -16, "labelBaseline": "top",
                               "labelAlign": {"condition": [{"test": "datum.value == 0", "value": "left"}, {"test": "datum.value == 100000", "value": "right"}], "value": "center"},
                               "labelOffset": {"condition": [{"test": "datum.value == 0", "value": -6}, {"test": "datum.value == 100000", "value": 6}], "value": 0},
                               "titleAngle": 270, "titleX": -5, "titleY": 258, "titleAlign": "center", "titleBaseline": "bottom", "titleFontSize": 18.5, "titleFontWeight": "bold"}}
              }
            },
            {
              "mark": {"type": "line", "color": "#3a8a4a", "strokeWidth": 1.2, "clip": true},
              "encoding": {
                "y": {"field": "rd", "type": "quantitative", "scale": {"domain": [0, 100000], "nice": false, "zero": false},
                      "axis": {"orient": "left", "offset": 83, "title": "RDeep",
                               "values": [0, 50000, 100000],
                               "labelExpr": "datum.value == 0 ? '0' : datum.value == 100000 ? '100000' : 'Ohmm'",
                               "grid": false, "domainColor": "#3a7a48", "domainWidth": 1.6,
                               "ticks": true, "tickSize": 5, "tickColor": "#3a7a48", "tickWidth": 1.6,
                               "tickOpacity": {"condition": {"test": "datum.value == 0 || datum.value == 100000", "value": 1}, "value": 0},
                               "labelAngle": 270, "labelFontSize": 17, "labelPadding": -16, "labelBaseline": "top",
                               "labelAlign": {"condition": [{"test": "datum.value == 0", "value": "left"}, {"test": "datum.value == 100000", "value": "right"}], "value": "center"},
                               "labelOffset": {"condition": [{"test": "datum.value == 0", "value": -6}, {"test": "datum.value == 100000", "value": 6}], "value": 0},
                               "titleAngle": 270, "titleX": -7, "titleY": 234, "titleAlign": "center", "titleBaseline": "bottom", "titleFontSize": 18.5, "titleFontWeight": "bold"}}
              }
            }
          ],
          "resolve": {"scale": {"y": "independent"}}
        },
        {
          "width": 839,
          "height": 388,
          "data": {"name": "temp"},
          "encoding": {
            "x": {"field": "d", "type": "quantitative", "scale": {"domain": [94.3, 225.2], "nice": false, "zero": false},
                  "axis": {"orient": "bottom", "title": null, "labels": false, "ticks": false, "domain": false, "grid": true,
                           "values": [95,100,105,110,115,120,125,130,135,140,145,150,155,160,165,170,175,180,185,190,195,200,205,210,215,220,225],
                           "gridColor": {"condition": {"test": "datum.value % 50 == 0", "value": "#3c3c3c"}, "value": "#e3e3e3"},
                           "gridWidth": {"condition": {"test": "datum.value % 50 == 0", "value": 1.1}, "value": 0.7}}}
          },
          "layer": [
            {
              "mark": {"type": "line", "color": "#e23a26", "strokeWidth": 1.6, "clip": true},
              "encoding": {
                "y": {"field": "t", "type": "quantitative", "scale": {"domain": [6, 18], "nice": false, "zero": false},
                      "axis": {"orient": "left", "offset": 201, "title": "TEMP",
                               "values": [6, 9, 12, 15, 18],
                               "labelExpr": "datum.value == 6 ? '6' : datum.value == 18 ? '18' : datum.value == 12 ? '°C' : ''",
                               "grid": true, "gridColor": "#4a4a4a", "gridWidth": 1.1,
                               "domainColor": "#e0402a", "domainWidth": 1.6,
                               "ticks": true, "tickSize": 5, "tickColor": "#e0402a", "tickWidth": 1.6,
                               "tickOpacity": {"condition": {"test": "datum.value == 6 || datum.value == 18", "value": 1}, "value": 0},
                               "labelAngle": 270, "labelFontSize": 17, "labelPadding": -16, "labelBaseline": "top",
                               "labelAlign": {"condition": [{"test": "datum.value == 6", "value": "left"}, {"test": "datum.value == 18", "value": "right"}], "value": "center"},
                               "labelOffset": {"condition": [{"test": "datum.value == 6", "value": -6}, {"test": "datum.value == 18", "value": 6}], "value": 0},
                               "titleAngle": 270, "titleX": -5, "titleY": 176, "titleAlign": "center", "titleBaseline": "bottom", "titleFontSize": 18.5, "titleFontWeight": "bold"}}
              }
            }
          ]
        },
        {
          "width": 839,
          "height": 446,
          "data": {"name": "gr"},
          "encoding": {
            "x": {"field": "d", "type": "quantitative", "scale": {"domain": [94.3, 225.2], "nice": false, "zero": false},
                  "axis": {"orient": "bottom", "title": null, "domain": false, "grid": true,
                           "values": [95,100,105,110,115,120,125,130,135,140,145,150,155,160,165,170,175,180,185,190,195,200,205,210,215,220,225],
                           "gridColor": {"condition": {"test": "datum.value % 50 == 0", "value": "#3c3c3c"}, "value": "#e3e3e3"},
                           "gridWidth": {"condition": {"test": "datum.value % 50 == 0", "value": 1.1}, "value": 0.7},
                           "ticks": true, "tickSize": 8, "tickColor": "#333", "tickWidth": 1.1,
                           "tickOpacity": {"condition": {"test": "datum.value % 50 == 0", "value": 1}, "value": 0},
                           "labelExpr": "datum.value % 50 == 0 ? datum.label : ''",
                           "labelAngle": 270, "labelAlign": "center", "labelBaseline": "middle", "labelPadding": 55, "labelFontSize": 18}}
          },
          "layer": [
            {
              "mark": {"type": "line", "color": "#b04a86", "strokeWidth": 1.1, "strokeDash": [1.5, 2.5], "clip": true},
              "encoding": {
                "y": {"field": "r", "type": "quantitative", "scale": {"domain": [0, 700], "nice": false, "zero": false},
                      "axis": {"orient": "left", "offset": 144, "title": "GR (reference measurement)",
                               "values": [0, 380, 700],
                               "labelExpr": "datum.value == 0 ? '0' : datum.value == 700 ? '700' : 'API-un.'",
                               "grid": false, "domainColor": "#999", "domainWidth": 1.4, "domainDash": [2, 2],
                               "ticks": false, "tickSize": 0,
                               "labelAngle": 270, "labelFontSize": 17, "labelPadding": -10, "labelBaseline": "top",
                               "labelAlign": {"condition": [{"test": "datum.value == 0", "value": "left"}, {"test": "datum.value == 700", "value": "right"}], "value": "center"},
                               "labelOffset": {"condition": [{"test": "datum.value == 0", "value": -6}, {"test": "datum.value == 700", "value": 6}], "value": 0},
                               "titleAngle": 270, "titleX": -5, "titleY": 226, "titleAlign": "center", "titleBaseline": "bottom", "titleFontSize": 18.5, "titleFontWeight": "bold"}}
              }
            },
            {
              "mark": {"type": "line", "color": "#3a2d80", "strokeWidth": 1.2, "clip": true},
              "encoding": {
                "y": {"field": "g", "type": "quantitative", "scale": {"domain": [0, 700], "nice": false, "zero": false},
                      "axis": {"orient": "left", "offset": 201, "title": "GR",
                               "values": [0, 100, 200, 300, 380, 400, 500, 600, 700],
                               "labelExpr": "datum.value == 0 ? '0' : datum.value == 700 ? '700' : datum.value == 380 ? 'API-un.' : ''",
                               "grid": true, "gridColor": "#4a4a4a", "gridWidth": 1.1,
                               "gridOpacity": {"condition": {"test": "datum.value == 380", "value": 0}, "value": 1},
                               "domainColor": "#4a4470", "domainWidth": 1.6,
                               "ticks": true, "tickSize": 5, "tickColor": "#4a4470", "tickWidth": 1.6,
                               "tickOpacity": {"condition": {"test": "datum.value == 0 || datum.value == 700", "value": 1}, "value": 0},
                               "labelAngle": 270, "labelFontSize": 17, "labelPadding": -16, "labelBaseline": "top",
                               "labelAlign": {"condition": [{"test": "datum.value == 0", "value": "left"}, {"test": "datum.value == 700", "value": "right"}], "value": "center"},
                               "labelOffset": {"condition": [{"test": "datum.value == 0", "value": -6}, {"test": "datum.value == 700", "value": 6}], "value": 0},
                               "titleAngle": 270, "titleX": -5, "titleY": 244, "titleAlign": "center", "titleBaseline": "bottom", "titleFontSize": 18.5, "titleFontWeight": "bold"}}
              }
            }
          ],
          "resolve": {"scale": {"y": "independent"}}
        }
      ]
    }
  ],
  "spacing": 0,
  "bounds": "flush"
}
